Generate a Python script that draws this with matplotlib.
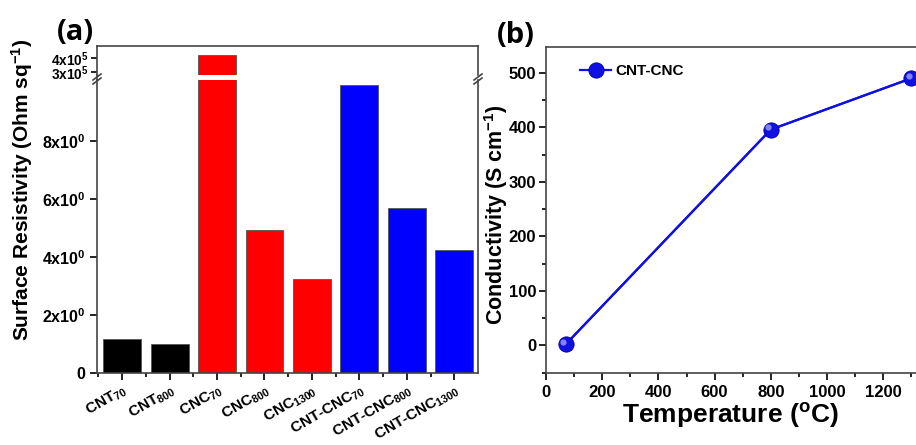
import matplotlib.pyplot as plt
import matplotlib.transforms as mtransforms
from matplotlib.ticker import MultipleLocator

plt.rcParams['font.family'] = 'Liberation Sans'
plt.rcParams['font.weight'] = 'bold'
plt.rcParams['mathtext.fontset'] = 'custom'
plt.rcParams['mathtext.rm'] = 'Liberation Sans:bold'
plt.rcParams['mathtext.it'] = 'Liberation Sans:bold'
plt.rcParams['mathtext.bf'] = 'Liberation Sans:bold'

# (a) surface resistivity, broken axis
samples = [r'CNT$_{70}$', r'CNT$_{800}$', r'CNC$_{70}$', r'CNC$_{800}$', r'CNC$_{1300}$',
           r'CNT-CNC$_{70}$', r'CNT-CNC$_{800}$', r'CNT-CNC$_{1300}$']
resistivity = [1.16, 0.98, 4.25e5, 4.93, 3.25, 9.95, 5.68, 4.25]
bar_colors = ['black', 'black', 'red', 'red', 'red', 'blue', 'blue', 'blue']
low_ticks = [0, 2, 4, 6, 8]
low_labels = ['0', r'2x10$^{0}$', r'4x10$^{0}$', r'6x10$^{0}$', r'8x10$^{0}$']
high_ticks = [3e5, 4e5]
high_labels = [r'3x10$^{5}$', r'4x10$^{5}$']

# (b) conductivity vs temperature
temperature = [70, 800, 1300]
conductivity = [2, 396, 490]

fig = plt.figure(figsize=(9.16, 4.45), dpi=100)
W, H = 916, 445

def px(x0, y0, x1, y1):
    return [x0 / W, 1 - y1 / H, (x1 - x0) / W, (y1 - y0) / H]

ax_hi = fig.add_axes(px(97, 45.7, 478, 75))
ax_lo = fig.add_axes(px(97, 80.5, 478, 372.7))

xs = list(range(len(samples)))
for ax in (ax_hi, ax_lo):
    ax.bar(xs, resistivity, width=0.8, color=bar_colors, edgecolor='#555555', linewidth=0.6)
    ax.set_xlim(-0.53, 7.5)
    for s in ax.spines.values():
        s.set_color('#444444')
        s.set_linewidth(1.2)

ax_lo.set_ylim(0, 10.1)
ax_hi.set_ylim(2.79e5, 4.88e5)
ax_hi.spines['bottom'].set_visible(False)
ax_lo.spines['top'].set_visible(False)
ax_hi.set_xticks([])
ax_hi.set_yticks(high_ticks)
ax_hi.set_yticklabels(high_labels, fontsize=9.8)
ax_lo.set_yticks(low_ticks)
ax_lo.set_yticklabels(low_labels, fontsize=11.5)
ax_lo.set_xticks(xs)
ax_lo.set_xticks([x + 0.5 for x in xs[:-1]] + [-0.5], minor=True)
ax_lo.set_xticklabels(samples, fontsize=11, rotation=30, ha='right', rotation_mode='anchor')
ax_lo.tick_params(axis='x', which='major', length=5, width=1.2, pad=2)
ax_lo.tick_params(axis='x', which='minor', length=3, width=1.2)
ax_lo.tick_params(axis='y', length=5, width=1.2)
ax_hi.tick_params(axis='y', length=4, width=1.2, pad=2)

# break marks
for xb in (97, 478):
    for dy in (0, 4):
        fig.add_artist(plt.Line2D([(xb - 4) / W, (xb + 4) / W],
                                  [1 - (80 + dy) / H, 1 - (74 + dy) / H],
                                  color='#444444', lw=1.2))
fig.add_artist(plt.Line2D([97 / W, 97 / W], [1 - 80.5 / H, 1 - 75 / H], color='#444444', lw=1.2))

fig.text(22 / W, 1 - 190 / H, r'Surface Resistivity (Ohm sq$^{-1}$)', rotation=90,
         ha='center', va='center', fontsize=15)
fig.text(57 / W, 1 - 40 / H, '(a)', fontsize=21, fontweight='bold', family='Open Sans')

# panel (b)
axb = fig.add_axes(px(546, 46.7, 546 + 1400 * 0.281, 372.7))
axb.plot(temperature, conductivity, '-', color='#0000ff', lw=1.6, zorder=2)
axb.plot(temperature, conductivity, 'o', color='#1010e0', ms=11, mec='#0000a0', mew=0.6,
         zorder=3, label='CNT-CNC', ls='-', lw=1.6)
hl = mtransforms.offset_copy(axb.transData, fig=fig, x=-1.8, y=1.8, units='points')
axb.plot(temperature, conductivity, 'o', color='#8f8fff', ms=4.5, mew=0, alpha=0.9,
         transform=hl, zorder=4)
axb.set_xlim(0, 1400)
axb.set_ylim(-50, 548)
axb.xaxis.set_major_locator(MultipleLocator(200))
axb.xaxis.set_minor_locator(MultipleLocator(100))
axb.yaxis.set_major_locator(MultipleLocator(100))
axb.yaxis.set_minor_locator(MultipleLocator(50))
axb.set_xticks([0, 200, 400, 600, 800, 1000, 1200])
axb.tick_params(axis='both', which='major', labelsize=12, length=5, width=1.2)
axb.tick_params(axis='y', which='major', pad=2)
axb.tick_params(axis='both', which='minor', length=3, width=1.2)
for s in axb.spines.values():
    s.set_color('#444444')
    s.set_linewidth(1.2)
axb.legend(loc='upper left', frameon=False, fontsize=11, handlelength=2.0,
           handletextpad=0.3, borderaxespad=0.3, bbox_to_anchor=(0.06, 0.98))

fig.text(496 / W, 1 - 215 / H, r'Conductivity (S cm$^{-1}$)', rotation=90,
         ha='center', va='center', fontsize=15.5)
fig.text(730 / W, 1 - 416 / H, r'Temperature ($^{o}$C)', ha='center', va='center', fontsize=19)
fig.text(497 / W, 1 - 43 / H, '(b)', fontsize=21, fontweight='bold', family='Open Sans')

fig.savefig('out.png', dpi=100)
